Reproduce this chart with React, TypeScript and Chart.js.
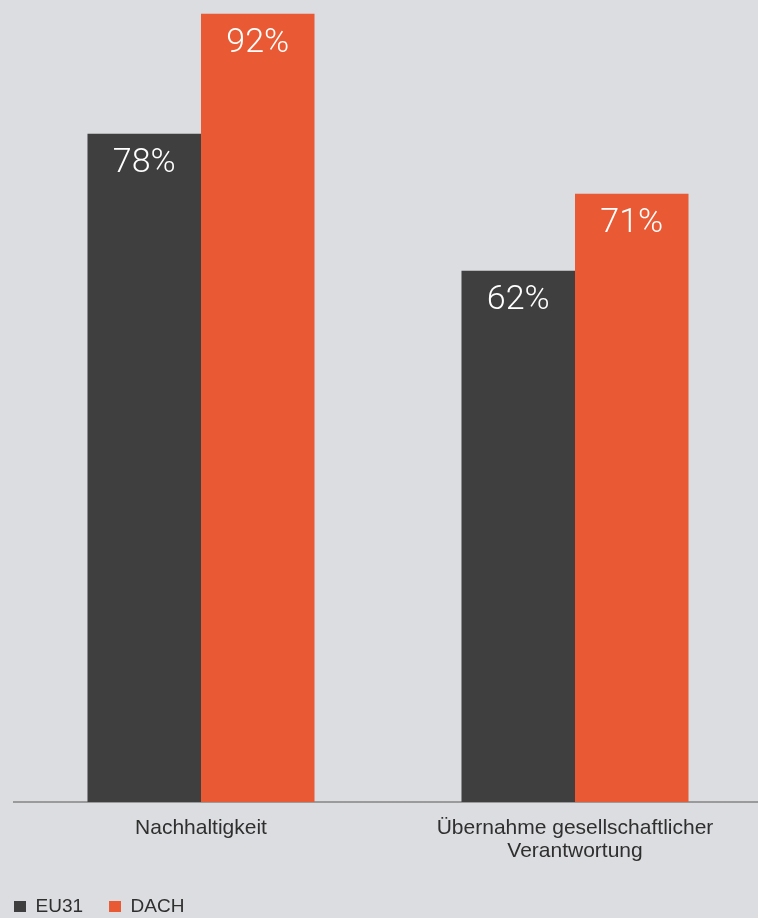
import React, { useEffect, useRef } from "react";
import { Chart, registerables } from "chart.js";

Chart.register(...registerables);

const categories: (string | string[])[] = [
  "Nachhaltigkeit",
  ["Übernahme gesellschaftlicher", "Verantwortung"],
];
const seriesNames = ["EU31", "DACH"];
const eu31Values = [78, 62];
const dachValues = [92, 71];
const seriesColors = ["#3f3f3f", "#e95a34"];
const valueSuffix = "%";

const valueLabels = {
  id: "valueLabels",
  afterDatasetsDraw(chart: any) {
    const ctx = chart.ctx;
    ctx.save();
    ctx.fillStyle = "#ffffff";
    ctx.font = "300 34px Roboto";
    ctx.textAlign = "center";
    ctx.textBaseline = "middle";
    chart.data.datasets.forEach((ds: any, i: number) => {
      chart.getDatasetMeta(i).data.forEach((bar: any, j: number) => {
        ctx.fillText(ds.data[j] + valueSuffix, bar.x, bar.y + 30);
      });
    });
    ctx.restore();
  },
};

export default function App() {
  const ref = useRef<HTMLCanvasElement>(null);
  useEffect(() => {
    document.body.style.background = "#dcdde0";
    const chart = new Chart(ref.current!, {
      type: "bar",
      data: {
        labels: categories,
        datasets: [
          {
            label: seriesNames[0],
            data: eu31Values,
            backgroundColor: seriesColors[0],
            borderWidth: 0,
          },
          {
            label: seriesNames[1],
            data: dachValues,
            backgroundColor: seriesColors[1],
            borderWidth: 0,
          },
        ],
      },
      options: {
        animation: false,
        responsive: false,
        devicePixelRatio: 1,
        categoryPercentage: 0.607,
        barPercentage: 1.0,
        layout: { padding: 0 },
        plugins: {
          tooltip: { enabled: false },
          legend: {
            position: "bottom",
            align: "start",
            labels: {
              boxWidth: 12,
              boxHeight: 11,
              padding: 26,
              color: "#2f2f2f",
              font: { family: "'Liberation Sans', Arial, sans-serif", size: 19 },
            },
          },
        },
        scales: {
          x: {
            grid: { display: false, drawTicks: false },
            border: { display: true, color: "#9a9a9a", width: 2 },
            ticks: {
              color: "#2f2f2f",
              padding: 15,
              maxRotation: 0,
              autoSkip: false,
              font: {
                family: "'Liberation Sans', Arial, sans-serif",
                size: 21,
                lineHeight: 1.07,
              },
            },
            afterFit: (s: any) => {
              s.height = 69;
            },
          },
          y: {
            display: true,
            min: 0,
            max: 93.6,
            grid: { display: false, drawTicks: false },
            border: { display: false },
            ticks: { display: false },
            afterFit: (s: any) => {
              s.width = 26;
            },
          },
        },
      },
      plugins: [valueLabels],
    } as any);
    return () => chart.destroy();
  }, []);

  return (
    <div
      style={{
        position: "absolute",
        left: 0,
        top: 0,
        width: 758,
        height: 918,
        overflow: "hidden",
        background: "#dcdde0",
      }}
    >
      <canvas
        ref={ref}
        width={774}
        height={926}
        style={{ position: "absolute", left: -12, top: 0 }}
      />
    </div>
  );
}
